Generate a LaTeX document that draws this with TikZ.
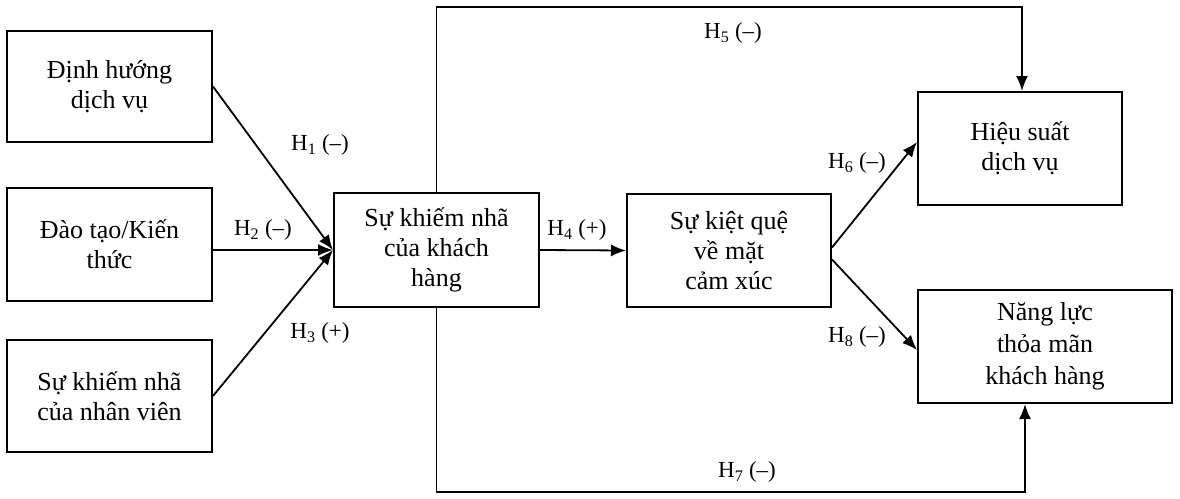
\documentclass[tikz,border=0pt]{standalone}
\usepackage{fontspec}
\setmainfont{Liberation Serif}
\usetikzlibrary{arrows.meta}
\begin{document}
\begin{tikzpicture}[x=1pt,y=-1pt,
  box/.style={draw,line width=2pt,inner sep=0pt,align=center,font=\fontsize{26}{30}\selectfont},
  lab/.style={font=\fontsize{23}{26}\selectfont,inner sep=0pt},
  arr/.style={line width=1.8pt,-{Latex[length=15pt,width=12pt]}}]
\useasboundingbox (0,0) rectangle (1180,498);
\node[box,minimum width=205pt,minimum height=111pt] (a) at (109.5,86.5) {Định hướng\\dịch vụ};
\node[box,minimum width=205pt,minimum height=113pt] (b) at (109.5,244.5) {Đào tạo/Kiến\\thức};
\node[box,minimum width=205pt,minimum height=112pt] (c) at (109.5,396) {Sự khiếm nhã\\của nhân viên};
\node[box,minimum width=205pt,minimum height=114pt] (cb) at (436.5,250) {Sự khiếm nhã\\của khách\\hàng};
\node[box,minimum width=204pt,minimum height=113pt] (kq) at (729,250.5) {Sự kiệt quệ\\về mặt\\cảm xúc};
\node[box,minimum width=204pt,minimum height=113pt] (hs) at (1020,148.5) {Hiệu suất\\dịch vụ};
\node[box,minimum width=254pt,minimum height=113pt,font=\fontsize{26}{32}\selectfont] (nl) at (1045,346.5) {Năng lực\\thỏa mãn\\khách hàng};
\coordinate (t1) at (436.5,7);
\coordinate (t2) at (1022,7);
\coordinate (b1) at (436.5,492);
\coordinate (b2) at (1025,492);
\draw[arr] (a.east) -- (cb.west);
\draw[arr] (b.east |- cb.west) -- (cb.west);
\draw[arr] (c.east) -- (cb.west);
\draw[arr] (cb.east) -- (kq.west);
\draw[arr] (cb.north) -- (t1) -- (t2) -- (t2 |- hs.north);
\draw[arr] (cb.south) -- (b1) -- (b2) -- (b2 |- nl.south);
\draw[arr] ([yshift=3pt]kq.east) -- ([yshift=6.5pt]hs.west);
\draw[arr] ([yshift=-9pt]kq.east) -- ([yshift=-3.5pt]nl.west);
\node[lab] (l1) at (320,145) {H\textsubscript{1} (--)};
\node[lab] (l2) at (263,230) {H\textsubscript{2} (--)};
\node[lab] (l3) at (320,333) {H\textsubscript{3} (+)};
\node[lab] (l4) at (577,230) {H\textsubscript{4} (+)};
\node[lab] (l5) at (733,33) {H\textsubscript{5} (--)};
\node[lab] (l6) at (857,163) {H\textsubscript{6} (--)};
\node[lab] (l7) at (747,472) {H\textsubscript{7} (--)};
\node[lab] (l8) at (857,337) {H\textsubscript{8} (--)};
\end{tikzpicture}
\end{document}
